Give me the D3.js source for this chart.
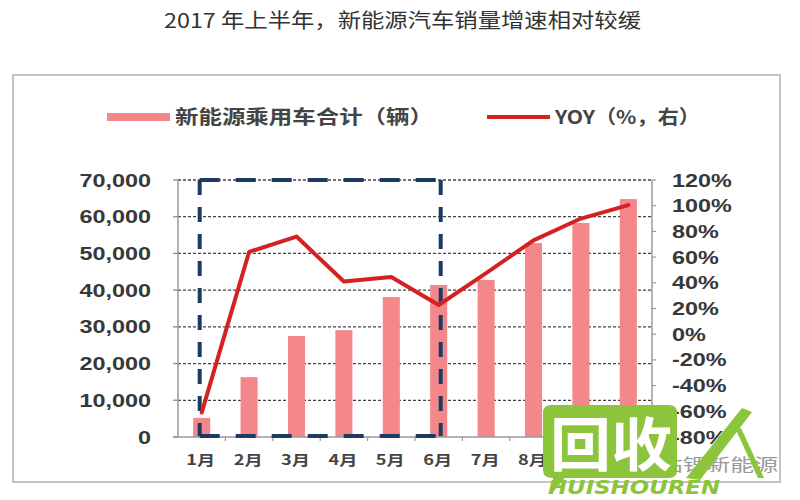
<!DOCTYPE html>
<html>
<head>
<meta charset="utf-8">
<script src="https://cdn.jsdelivr.net/npm/d3@7"></script>
<style>
  html, body { margin: 0; padding: 0; background: #fff; }
  svg { display: block; }
</style>
</head>
<body>
<svg id="chart" width="800" height="500"></svg>
<script>
// ---------------- DATA ----------------
const categories = ["1月", "2月", "3月", "4月", "5月", "6月", "7月", "8月", "9月", "10月"];
const salesValues = [5200, 16300, 27500, 29100, 38100, 41400, 42800, 52800, 58300, 64800];
const yoyValues = [-61, 64, 76, 41, 44.5, 22.7, 47.6, 73, 90, 100.5];
const leftTicks = [0, 10000, 20000, 30000, 40000, 50000, 60000, 70000];
const rightTicks = [-80, -60, -40, -20, 0, 20, 40, 60, 80, 100, 120];
const highlightRange = ["1月", "6月"];
const titleText = "2017 年上半年，新能源汽车销量增速相对较缓";
const legendBarLabel = "新能源乘用车合计（辆）";
const legendLineLabel = "YOY（%，右）";

// ---------------- LAYOUT ----------------
const W = 800, H = 500;
const plot = { left: 178, right: 652, top: 180, bottom: 437 };
const stretch = 1.3;
const barColor = "#f4878a";
const lineColor = "#d42222";
const boxColor = "#1d3b60";
const textColor = "#383838";

const svg = d3.select("#chart");

const x = d3.scaleBand().domain(categories)
  .range([plot.left, plot.right]).paddingInner(0.64).paddingOuter(0.32);
const yL = d3.scaleLinear().domain([0, 70000]).range([plot.bottom, plot.top]);
const yR = d3.scaleLinear().domain([-80, 120]).range([plot.bottom, plot.top]);
const cx = c => x(c) + x.bandwidth() / 2;
const step = x.step();

function stext(g, str, px, py, anchor, opts) {
  opts = opts || {};
  return g.append("text")
    .attr("transform", `translate(${px},${py}) scale(${opts.sx || stretch},1)`)
    .attr("text-anchor", anchor)
    .attr("font-family", opts.family || "Liberation Sans, Arial, sans-serif")
    .attr("font-size", opts.size || 18)
    .attr("font-weight", opts.weight || "bold")
    .attr("fill", opts.fill || textColor)
    .text(str);
}

// outer frame
svg.append("rect").attr("x", 13).attr("y", 75).attr("width", 767).attr("height", 407)
  .attr("fill", "none").attr("stroke", "#c4c4c4").attr("stroke-width", 2);

// title
svg.append("text").attr("x", 164).attr("y", 28)
  .attr("font-family", "Noto Sans CJK SC, sans-serif").attr("font-size", 20)
  .attr("fill", "#333").attr("textLength", 477).attr("lengthAdjust", "spacingAndGlyphs")
  .text(titleText);

// legend
svg.append("rect").attr("x", 107).attr("y", 113).attr("width", 63).attr("height", 8).attr("fill", barColor);
svg.append("text").attr("x", 175).attr("y", 124)
  .attr("font-family", "Noto Sans CJK SC, sans-serif").attr("font-size", 19).attr("font-weight", "bold")
  .attr("fill", "#444").attr("textLength", 258).attr("lengthAdjust", "spacingAndGlyphs")
  .text(legendBarLabel);
svg.append("line").attr("x1", 487).attr("x2", 550).attr("y1", 117).attr("y2", 117)
  .attr("stroke", lineColor).attr("stroke-width", 4);
svg.append("text").attr("x", 555).attr("y", 124)
  .attr("font-family", "Noto Sans CJK SC, sans-serif").attr("font-size", 19).attr("font-weight", "bold")
  .attr("fill", "#444").attr("textLength", 145).attr("lengthAdjust", "spacingAndGlyphs")
  .text(legendLineLabel);

// gridlines
svg.append("g").selectAll("line").data(leftTicks.filter(d => d > 0)).join("line")
  .attr("x1", plot.left).attr("x2", plot.right)
  .attr("y1", d => yL(d)).attr("y2", d => yL(d))
  .attr("stroke", "#444").attr("stroke-width", 1.3).attr("stroke-dasharray", "3,2");

// bars
svg.append("g").selectAll("rect").data(salesValues).join("rect")
  .attr("x", (d, i) => x(categories[i]))
  .attr("width", x.bandwidth())
  .attr("y", d => yL(d))
  .attr("height", d => yL(0) - yL(d))
  .attr("fill", barColor);

// axes lines
const axisColor = "#9a9a9a";
svg.append("line").attr("x1", plot.left).attr("x2", plot.left).attr("y1", plot.top).attr("y2", plot.bottom)
  .attr("stroke", axisColor).attr("stroke-width", 1.5);
svg.append("line").attr("x1", plot.right).attr("x2", plot.right).attr("y1", plot.top).attr("y2", plot.bottom)
  .attr("stroke", axisColor).attr("stroke-width", 1.5);
svg.append("line").attr("x1", plot.left - 5).attr("x2", plot.right).attr("y1", plot.bottom).attr("y2", plot.bottom)
  .attr("stroke", axisColor).attr("stroke-width", 1.5);

// left ticks + labels
const gL = svg.append("g");
leftTicks.forEach(t => {
  gL.append("line").attr("x1", plot.left - 5).attr("x2", plot.left).attr("y1", yL(t)).attr("y2", yL(t))
    .attr("stroke", axisColor).attr("stroke-width", 1.5);
  stext(gL, d3.format(",")(t), 151, yL(t) + 6.5, "end");
});

// right ticks + labels
const gR = svg.append("g");
rightTicks.forEach(t => {
  gR.append("line").attr("x1", plot.right).attr("x2", plot.right + 4).attr("y1", yR(t)).attr("y2", yR(t))
    .attr("stroke", axisColor).attr("stroke-width", 1.2);
  stext(gR, t + "%", 672, yR(t) + 6.5, "start");
});

// x ticks + labels
const gX = svg.append("g");
categories.forEach((c, i) => {
  const bx = plot.left + step * (i + 1);
  if (i < categories.length - 1) {
    gX.append("line").attr("x1", bx).attr("x2", bx).attr("y1", plot.bottom).attr("y2", plot.bottom + 4)
      .attr("stroke", axisColor).attr("stroke-width", 1.2);
  }
  stext(gX, c, cx(c) - 1, 465, "middle", { size: 14, family: "Noto Sans CJK SC, sans-serif", fill: "#444" });
});

// highlight dashed box
const bx0 = cx(highlightRange[0]) - 2, bx1 = cx(highlightRange[1]) + 2;
const by0 = yL(70000), by1 = yL(0) - 1;
const gB = svg.append("g").attr("stroke", boxColor).attr("stroke-width", 4).attr("fill", "none");
gB.append("line").attr("x1", bx0).attr("x2", bx1).attr("y1", by0).attr("y2", by0).attr("stroke-dasharray", "20,16");
gB.append("line").attr("x1", bx0).attr("x2", bx1).attr("y1", by1).attr("y2", by1).attr("stroke-dasharray", "20,16");
gB.append("line").attr("x1", bx0).attr("x2", bx0).attr("y1", by0).attr("y2", by1).attr("stroke-dasharray", "15,12");
gB.append("line").attr("x1", bx1).attr("x2", bx1).attr("y1", by0).attr("y2", by1).attr("stroke-dasharray", "15,12");

// YOY line
const line = d3.line().x((d, i) => cx(categories[i])).y(d => yR(d));
svg.append("path").datum(yoyValues).attr("d", line)
  .attr("fill", "none").attr("stroke", lineColor).attr("stroke-width", 4)
  .attr("stroke-linejoin", "round").attr("stroke-linecap", "round");

// ---------------- watermark overlay ----------------
const wm = svg.append("g");
const green = "#8cc43c";
wm.append("text").attr("x", 598).attr("y", 471)
  .attr("font-family", "Noto Sans CJK SC, sans-serif").attr("font-size", 17)
  .attr("fill", "#9a9a9a").attr("textLength", 180).attr("lengthAdjust", "spacingAndGlyphs")
  .text("(SMM钴锂新能源");
wm.append("path")
  .attr("d", "M551,405 H669 Q677,405 677,413 V470 Q677,478 669,478 H565 L553,492 L553,478 Q543,478 543,470 V413 Q543,405 551,405 Z")
  .attr("fill", green);
wm.append("text").attr("x", 550).attr("y", 466)
  .attr("font-family", "Noto Sans CJK SC, sans-serif").attr("font-size", 58).attr("font-weight", "bold")
  .attr("fill", "#fff").attr("textLength", 122).attr("lengthAdjust", "spacingAndGlyphs")
  .text("回收");
wm.append("path").attr("d", "M742,408 L752,412 L700,480 L686,478 Z").attr("fill", green);
wm.append("path").attr("d", "M736,430 L741,428 L764,478 L758,478 Z").attr("fill", green);
wm.append("text").attr("x", 548).attr("y", 494)
  .attr("font-family", "DejaVu Sans, sans-serif").attr("font-size", 19).attr("font-weight", "bold")
  .attr("font-style", "italic")
  .attr("fill", green).attr("textLength", 172).attr("lengthAdjust", "spacingAndGlyphs")
  .text("HUISHOUREN");
</script>
</body>
</html>
